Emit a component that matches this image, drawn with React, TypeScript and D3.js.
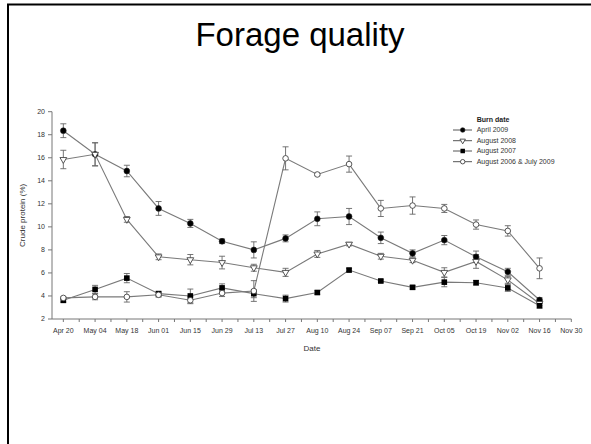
import * as d3 from 'd3';

const W = 591;
const H = 444;
const FONT = 'Liberation Sans, Arial, sans-serif';

// sampling dates (2009), one every two weeks
const X_TICK_LABELS = [
  'Apr 20', 'May 04', 'May 18', 'Jun 01', 'Jun 15', 'Jun 29', 'Jul 13', 'Jul 27', 'Aug 10',
  'Aug 24', 'Sep 07', 'Sep 21', 'Oct 05', 'Oct 19', 'Nov 02', 'Nov 16', 'Nov 30',
];
const SAMPLE_LABELS = X_TICK_LABELS.slice(0, 16);
const Y_TICKS = [2, 4, 6, 8, 10, 12, 14, 16, 18, 20];

const APRIL_2009 = [18.35, 16.3, 14.85, 11.6, 10.3, 8.75, 8.0, 9.0, 10.7, 10.9, 9.05, 7.7, 8.85, 7.4, 6.1, 3.65];
const APRIL_2009_SE = [0.6, 1.0, 0.5, 0.6, 0.35, 0.2, 0.7, 0.3, 0.6, 0.7, 0.5, 0.3, 0.4, 0.5, 0.3, 0.2];
const AUG_2008 = [15.85, 16.3, 10.65, 7.4, 7.15, 6.9, 6.45, 6.05, 7.65, 8.5, 7.45, 7.1, 6.05, 7.0, 5.4, 3.35];
const AUG_2008_SE = [0.8, 1.0, 0.25, 0.25, 0.45, 0.55, 0.3, 0.35, 0.3, 0.15, 0.25, 0.2, 0.4, 0.6, 0.3, 0.2];
const AUG_2007 = [3.62, 4.57, 5.55, 4.2, 4.0, 4.7, 4.2, 3.77, 4.3, 6.25, 5.3, 4.75, 5.2, 5.15, 4.7, 3.15];
const AUG_2007_SE = [0.15, 0.35, 0.4, 0.2, 0.6, 0.35, 0.35, 0.3, 0.15, 0.15, 0.1, 0.15, 0.4, 0.2, 0.3, 0.2];
const AUG06_JUL09 = [3.83, 3.92, 3.92, 4.1, 3.63, 4.25, 4.43, 15.95, 14.55, 15.45, 11.6, 11.85, 11.6, 10.2, 9.65, 6.4];
const AUG06_JUL09_SE = [0.1, 0.25, 0.45, 0.2, 0.3, 0.3, 0.9, 1.0, 0.1, 0.7, 0.7, 0.75, 0.35, 0.4, 0.45, 0.9];

const SERIES_NAMES = ['April 2009', 'August 2008', 'August 2007', 'August 2006 & July 2009'];
const SERIES_SHAPES = ['circle', 'triangle-down', 'square', 'circle-open'];

const parseDay = d3.utcParse('%b %d %Y');
const toDate = (label: string) => parseDay(`${label} 2009`) as Date;

const x = d3.scaleUtc()
  .domain([toDate('Apr 15'), toDate('Nov 30')])
  .range([52, 571.3]);
const y = d3.scaleLinear().domain([2, 20]).range([319, 111.7]);

const series = [
  { values: APRIL_2009, se: APRIL_2009_SE },
  { values: AUG_2008, se: AUG_2008_SE },
  { values: AUG_2007, se: AUG_2007_SE },
  { values: AUG06_JUL09, se: AUG06_JUL09_SE },
].map((s, i) => ({
  ...s,
  name: SERIES_NAMES[i],
  shape: SERIES_SHAPES[i],
  dates: SAMPLE_LABELS.map(toDate),
}));

const weekTicks = d3.utcDay.range(toDate('Apr 20'), d3.utcDay.offset(toDate('Nov 30'), 1), 7);

function Marker({ shape, cx, cy, k = 1 }: { shape: string; cx: number; cy: number; k?: number }) {
  if (shape === 'circle') return <circle cx={cx} cy={cy} r={2.9 * k} fill="#000" stroke="#222" strokeWidth={0.6} />;
  if (shape === 'circle-open') return <circle cx={cx} cy={cy} r={2.8 * k} fill="#fff" stroke="#444" strokeWidth={0.9} />;
  if (shape === 'square') return <rect x={cx - 2.8 * k} y={cy - 2.8 * k} width={5.6 * k} height={5.6 * k} fill="#000" />;
  const tri = d3.symbol(d3.symbolTriangle, 20 * k * k)() ?? '';
  return (
    <path d={tri} transform={`translate(${cx},${cy}) rotate(180)`} fill="#fff" stroke="#444" strokeWidth={0.9} />
  );
}

export default function App() {
  const line = (s: typeof series[number]) =>
    d3.line<number>()
      .x((_, i) => x(s.dates[i]))
      .y((v) => y(v))(s.values) ?? '';

  const legendY = [130, 140.7, 151, 161.7];

  return (
    <svg
      width={W}
      height={H}
      style={{ position: 'absolute', left: 0, top: 0, background: '#fff' }}
      fontFamily={FONT}
    >
      {/* slide frame */}
      <rect x={8} y={4.5} width={620} height={480} fill="none" stroke="#000" strokeWidth={2} />

      <text x={300} y={46} textAnchor="middle" fontSize={33} fill="#000">Forage quality</text>

      {/* y axis */}
      <line x1={52} x2={52} y1={y(20)} y2={y(2)} stroke="#777" strokeWidth={1} />
      {Y_TICKS.map((t) => (
        <g key={t}>
          <line x1={48} x2={52} y1={y(t)} y2={y(t)} stroke="#777" />
          <text x={45} y={y(t)} dy="0.35em" textAnchor="end" fontSize={7} fill="#333">{t}</text>
        </g>
      ))}
      <text
        transform={`translate(25,${(y(20) + y(2)) / 2}) rotate(-90)`}
        textAnchor="middle"
        fontSize={8}
        fill="#333"
      >
        Crude protein (%)
      </text>

      {/* x axis */}
      <line x1={52} x2={x(toDate('Nov 30'))} y1={y(2)} y2={y(2)} stroke="#777" strokeWidth={1} />
      {weekTicks.map((d) => (
        <line key={+d} x1={x(d)} x2={x(d)} y1={y(2)} y2={y(2) + 3} stroke="#777" />
      ))}
      {X_TICK_LABELS.map((l) => (
        <text key={l} x={x(toDate(l))} y={332.5} textAnchor="middle" fontSize={7} fill="#333">{l}</text>
      ))}
      <text x={312} y={351} textAnchor="middle" fontSize={8} fill="#333">Date</text>

      {/* lines */}
      {series.map((s) => (
        <path key={s.name} d={line(s)} fill="none" stroke="#7a7a7a" strokeWidth={1.1} />
      ))}

      {/* error bars */}
      {series.map((s) =>
        s.values.map((v, i) => {
          const cx = x(s.dates[i]);
          const top = y(v + s.se[i]);
          const bot = y(v - s.se[i]);
          return (
            <g key={`${s.name}-${i}`} stroke="#666" strokeWidth={0.9}>
              <line x1={cx} x2={cx} y1={top} y2={bot} />
              <line x1={cx - 3} x2={cx + 3} y1={top} y2={top} />
              <line x1={cx - 3} x2={cx + 3} y1={bot} y2={bot} />
            </g>
          );
        })
      )}

      {/* markers */}
      {series.map((s) =>
        s.values.map((v, i) => (
          <Marker key={`${s.name}-m${i}`} shape={s.shape} cx={x(s.dates[i])} cy={y(v)} />
        ))
      )}

      {/* legend */}
      <text x={476.7} y={120} dy="0.35em" fontSize={7} fontWeight="bold" fill="#222">Burn date</text>
      {series.map((s, i) => (
        <g key={`lg-${s.name}`}>
          <line x1={453} x2={472} y1={legendY[i]} y2={legendY[i]} stroke="#555" />
          <Marker shape={s.shape} cx={462.7} cy={legendY[i]} k={0.8} />
          <text x={476.7} y={legendY[i]} dy="0.35em" fontSize={7} fill="#333">{s.name}</text>
        </g>
      ))}
    </svg>
  );
}
